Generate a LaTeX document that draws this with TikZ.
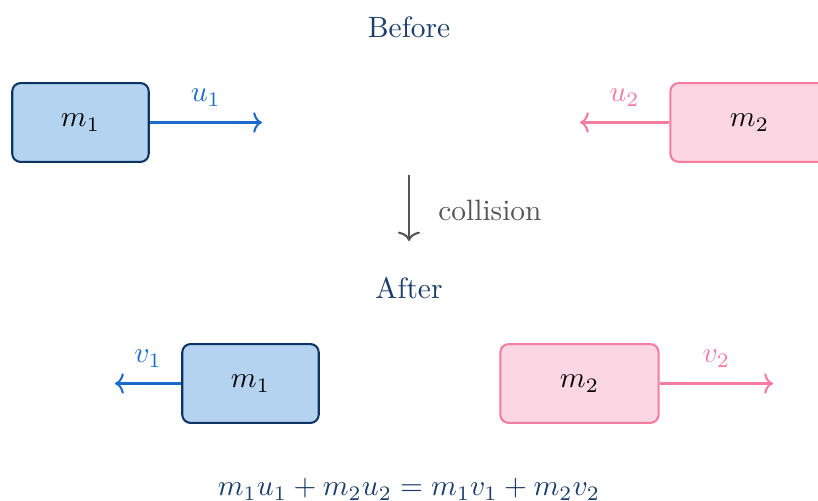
\documentclass[tikz,border=0pt]{standalone}
\usetikzlibrary{arrows.meta}
\definecolor{navy}{HTML}{1B3D6B}
\definecolor{boxblueborder}{HTML}{0E3466}
\definecolor{boxbluefill}{HTML}{B3D3F0}
\definecolor{arrowblue}{HTML}{1A6BCC}
\definecolor{pinkborder}{HTML}{F27DA0}
\definecolor{pinkfill}{HTML}{FCD6E2}
\definecolor{graytext}{HTML}{555555}
\tikzset{
  bluebox/.style={draw=boxblueborder, fill=boxbluefill, line width=0.7pt, rounded corners=2.8pt,
    minimum width=46.4pt, minimum height=26.8pt, inner sep=0pt},
  pinkbox/.style={draw=pinkborder, fill=pinkfill, line width=0.7pt, rounded corners=2.8pt,
    minimum width=53.8pt, minimum height=26.8pt, inner sep=0pt},
  bluearrow/.style={draw=arrowblue, line width=0.7pt, -{To[length=3pt,width=7pt]}},
  pinkarrow/.style={draw=pinkborder, line width=0.7pt, -{To[length=3pt,width=7pt]}},
  grayarrow/.style={draw=graytext, line width=0.7pt, -{To[length=3.2pt,width=7.5pt]}},
  title/.style={text=navy, anchor=base},
}
\begin{document}
\begin{tikzpicture}[x=0.34pt, y=-0.34pt]
\useasboundingbox (0,0) rectangle (818,501);
% Before
\node[title] (before) at (409,38) {Before};
\node[bluebox] (m1a) at (80.5,122.5) {$m_1$};
\node[pinkbox] (m2a) at (749.5,122.5) {$m_2$};
\coordinate (u1end) at (262,122.5);
\coordinate (u2end) at (580,122.5);
\draw[bluearrow] (m1a.east) -- (u1end) node[midway, yshift=8.4pt, text=arrowblue] (u1lab) {$u_1$};
\draw[pinkarrow] (m2a.west) -- (u2end) node[midway, yshift=8.4pt, text=pinkborder] (u2lab) {$u_2$};
% collision
\coordinate (cstart) at (409,175);
\coordinate (cend) at (409,241);
\draw[grayarrow] (cstart) -- (cend);
\node[text=graytext, anchor=west] (coll) at (428,210) {collision};
% After
\node[title] (after) at (409,299) {After};
\node[bluebox] (m1b) at (250.5,383.5) {$m_1$};
\node[pinkbox] (m2b) at (579.5,383.5) {$m_2$};
\coordinate (v1end) at (115,383.5);
\coordinate (v2end) at (773,383.5);
\draw[bluearrow] (m1b.west) -- (v1end) node[pos=0.5, yshift=8.4pt, text=arrowblue] (v1lab) {$v_1$};
\draw[pinkarrow] (m2b.east) -- (v2end) node[pos=0.5, yshift=8.4pt, text=pinkborder] (v2lab) {$v_2$};
% equation
\node[title] (eq) at (409,496) {$m_1u_1 + m_2u_2 = m_1v_1 + m_2v_2$};
\end{tikzpicture}
\end{document}
